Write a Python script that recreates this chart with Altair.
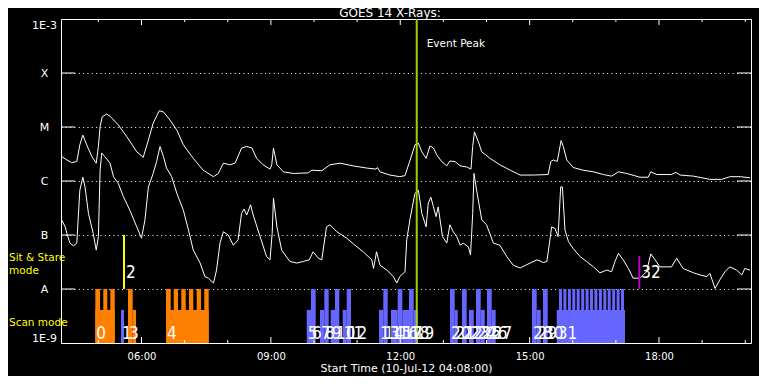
import altair as alt
import pandas as pd

# ---------------- data ----------------
T_START = 4 + 8 / 60.0          # 04:08
T_END = T_START + 16.0

# GOES long channel (1-8 A): time in decimal hours, log10 flux
long_h = [4.15,4.27,4.38,4.50,4.57,4.64,4.73,4.85,4.95,5.00,
          5.04,5.09,5.19,5.27,5.46,5.66,5.89,6.04,6.16,6.27,
          6.41,6.51,6.66,6.82,6.97,7.20,7.43,7.67,7.78,7.90,
          8.05,8.17,8.32,8.44,8.56,8.67,8.82,8.98,9.02,9.06,
          9.14,9.29,9.52,9.87,9.95,10.18,10.37,10.60,10.91,11.22,
          11.44,11.47,11.53,11.76,11.99,12.11,12.23,12.34,12.42,12.50,
          12.60,12.69,12.77,12.85,12.96,13.08,13.15,13.27,13.39,13.54,
          13.64,13.68,13.72,13.81,13.89,14.08,14.31,14.55,14.78,15.09,
          15.43,15.49,15.55,15.64,15.69,15.73,15.78,15.86,16.01,16.24,
          16.48,16.71,16.90,17.06,17.25,17.56,17.75,17.81,17.95,18.29,
          18.39,18.49,18.80,19.18,19.45,19.65,19.88,20.11]
long_lg = [-5.55,-5.61,-5.66,-5.64,-5.33,-5.15,-5.33,-5.55,-5.67,-5.36,
           -4.99,-4.81,-4.76,-4.80,-4.96,-5.18,-5.46,-5.56,-5.24,-4.93,
           -4.70,-4.72,-4.87,-5.06,-5.33,-5.58,-5.80,-5.92,-5.86,-5.67,
           -5.70,-5.67,-5.39,-5.36,-5.39,-5.58,-5.70,-5.78,-5.70,-5.39,
           -5.70,-5.83,-5.86,-5.85,-5.80,-5.81,-5.70,-5.67,-5.72,-5.76,
           -5.78,-5.75,-5.83,-5.89,-5.92,-5.90,-5.61,-5.33,-5.30,-5.46,
           -5.58,-5.35,-5.39,-5.52,-5.64,-5.72,-5.63,-5.64,-5.72,-5.74,
           -5.78,-5.36,-5.09,-5.27,-5.46,-5.58,-5.70,-5.80,-5.89,-5.89,
           -5.88,-5.64,-5.61,-5.64,-5.43,-5.25,-5.36,-5.61,-5.75,-5.80,
           -5.83,-5.88,-5.91,-5.83,-5.86,-5.93,-5.93,-5.83,-5.88,-5.88,
           -5.84,-5.89,-5.91,-5.97,-5.97,-5.92,-5.92,-5.94]

# GOES short channel (0.5-4 A)
short_h = [4.15,4.23,4.27,4.34,4.42,4.50,4.53,4.57,4.64,4.69,
           4.77,4.88,4.95,5.00,5.04,5.08,5.15,5.27,5.35,5.46,
           5.58,5.73,5.89,6.00,6.08,6.16,6.27,6.35,6.43,6.51,
           6.58,6.70,6.82,6.97,7.09,7.20,7.36,7.47,7.55,7.67,
           7.74,7.82,7.90,8.01,8.13,8.24,8.32,8.38,8.44,8.53,
           8.59,8.75,8.90,8.98,9.03,9.06,9.14,9.25,9.44,9.60,
           9.75,9.89,9.98,10.10,10.18,10.29,10.37,10.53,10.76,10.95,
           11.14,11.34,11.38,11.45,11.53,11.69,11.84,11.92,11.99,12.11,
           12.15,12.23,12.34,12.42,12.50,12.60,12.65,12.71,12.77,12.83,
           12.88,12.98,13.08,13.15,13.23,13.31,13.39,13.46,13.58,13.63,
           13.68,13.71,13.77,13.89,14.00,14.16,14.31,14.47,14.62,14.78,
           15.01,15.17,15.32,15.40,15.47,15.51,15.59,15.66,15.72,15.76,
           15.82,15.90,16.01,16.17,16.32,16.48,16.63,16.79,16.90,16.98,
           17.06,17.17,17.29,17.40,17.56,17.71,17.81,17.91,18.02,18.18,
           18.29,18.41,18.56,18.80,18.95,19.11,19.18,19.30,19.41,19.53,
           19.64,19.80,19.92,19.99,20.11]
short_lg = [-6.72,-6.85,-6.97,-7.15,-7.20,-7.15,-6.72,-6.17,-5.93,-6.11,
            -6.60,-6.97,-7.28,-7.03,-5.80,-5.48,-5.55,-5.67,-5.92,-6.04,
            -6.29,-6.54,-6.85,-7.06,-6.72,-6.11,-5.86,-5.64,-5.36,-5.55,
            -5.76,-5.92,-6.23,-6.54,-6.91,-7.28,-7.52,-7.77,-7.80,-7.89,
            -7.65,-7.15,-6.94,-7.00,-7.19,-7.09,-6.60,-6.52,-6.63,-6.44,
            -6.63,-7.03,-7.40,-7.46,-6.97,-6.32,-6.85,-7.28,-7.49,-7.52,
            -7.49,-7.46,-7.31,-7.43,-7.46,-6.85,-6.81,-6.94,-7.06,-7.19,
            -7.31,-7.46,-7.62,-7.31,-7.56,-7.65,-7.77,-7.89,-7.77,-7.68,
            -7.09,-6.69,-6.23,-6.17,-6.60,-6.85,-6.41,-6.30,-6.48,-6.66,
            -6.48,-7.03,-7.15,-6.81,-6.94,-7.03,-7.19,-7.15,-7.22,-7.37,
            -6.60,-5.86,-6.17,-6.72,-6.81,-7.15,-7.19,-7.40,-7.56,-7.61,
            -7.52,-7.46,-7.51,-7.49,-7.09,-6.85,-6.88,-7.03,-6.11,-6.11,
            -6.91,-7.12,-7.25,-7.40,-7.49,-7.59,-7.70,-7.65,-7.68,-7.49,
            -7.34,-7.46,-7.62,-7.80,-7.80,-7.68,-7.35,-7.46,-7.59,-7.59,
            -7.59,-7.43,-7.62,-7.70,-7.74,-7.77,-7.71,-7.99,-7.83,-7.68,
            -7.59,-7.65,-7.74,-7.62,-7.65]

# Scan-mode rasters: start/end (h), level ('full' reaches A, 'half' lower), colour group
FULL = 1e-8
HALF = 4.1e-9
BASE = 1e-9
rect_start = [4.929,4.929,5.114,5.277, 5.525, 5.687,5.796,
              6.568,6.568,6.747,6.923,7.101,7.280,7.456,
              9.831,9.930,10.139,10.239,10.387,10.487,10.665,10.758,
              11.507,11.607,11.786,11.941,12.048,12.203,12.312,
              13.154,13.263,13.432,13.594,13.757,13.866,14.012,14.121,
              15.055,15.164,15.310,
              15.628,15.681,15.783,15.888,15.990,16.091,16.196,16.298,16.400,
              16.502,16.607,16.709,16.811,16.915,17.017,17.119]
rect_end = [5.379,5.038,5.207,5.379, 5.594, 5.796,5.873,
            7.558,6.677,6.846,7.025,7.201,7.380,7.558,
            9.930,10.039,10.239,10.341,10.487,10.587,10.758,10.858,
            11.607,11.709,11.941,12.048,12.203,12.312,12.412,
            13.263,13.333,13.541,13.704,13.866,13.959,14.121,14.213,
            15.164,15.257,15.419,
            17.212,15.751,15.853,15.957,16.059,16.161,16.266,16.368,16.470,
            16.572,16.676,16.778,16.880,16.984,17.086,17.188]
rect_level = ["half","full","full","full", "half", "full","half",
              "half","full","full","full","full","full","full",
              "half","full","half","full","half","full","half","full",
              "half","full","half","full","half","full","half",
              "full","half","full","half","full","half","full","half",
              "full","half","full",
              "half"] + ["full"] * 15
rect_group = ["orange"] * 4 + ["blue"] + ["orange"] * 9 + ["blue"] * 42

# scan numbers and their start times
scan_num = [0,1,3,4,5,6,7,8,9,10,11,12,13,14,15,16,17,18,19,
            20,21,22,23,24,25,26,27,28,29,30,31]
scan_h = [4.929,5.525,5.687,6.568,9.831,9.930,10.139,10.239,10.387,10.487,
          10.665,10.758,11.507,11.607,11.786,11.941,12.048,12.203,12.312,
          13.154,13.263,13.432,13.594,13.757,13.866,14.012,14.121,
          15.055,15.164,15.310,15.628]

# Sit & Stare markers
sit_num = [2, 32]
sit_h = [5.594, 17.543]
sit_top = [1e-7, 4.1e-8]

EVENT_PEAK = 12.382

major_hours = [6, 9, 12, 15, 18]
minor_hours = [5, 7, 8, 10, 11, 13, 14, 16, 17, 19, 20]
decades = [1e-9, 1e-8, 1e-7, 1e-6, 1e-5, 1e-4, 1e-3]
class_levels = [1e-8, 1e-7, 1e-6, 1e-5, 1e-4]

# ---------------- frames ----------------
lines_df = pd.concat([
    pd.DataFrame({"h": long_h, "flux": [10 ** v for v in long_lg], "series": "long"}),
    pd.DataFrame({"h": short_h, "flux": [10 ** v for v in short_lg], "series": "short"}),
])
COLORS = {"orange": "#FF8000", "blue": "#6666FF"}
rect_df = pd.DataFrame({
    "h0": rect_start, "h1": rect_end,
    "top": [FULL if l == "full" else HALF for l in rect_level],
    "bottom": BASE,
    "fill": [COLORS[g] for g in rect_group],
})
scan_df = pd.DataFrame({"h": scan_h, "num": [str(n) for n in scan_num]})
sit_df = pd.DataFrame({"h": sit_h, "top": sit_top, "bot": FULL,
                       "num": [str(n) for n in sit_num]})

W, H = 690, 324
FONT = "DejaVu Sans"
NUMFONT = "'Liberation Sans Narrow', 'DejaVu Sans Condensed', sans-serif"

XS = alt.Scale(domain=[T_START, T_END], nice=False, zero=False)
YS = alt.Scale(type="log", domain=[1e-9, 1e-3], nice=False)

X_AX = alt.Axis(values=major_hours,
                labelExpr="(datum.value < 10 ? '0' : '') + datum.value + ':00'",
                title="Start Time (10-Jul-12 04:08:00)", grid=False, ticks=False,
                tickSize=0, domain=False, labelColor="white", titleColor="white",
                labelFont=FONT, titleFont=FONT, labelFontSize=10, titleFontSize=11,
                titleFontWeight="normal", labelPadding=8, titlePadding=1,
                labelOverlap=False)
Y_AX = alt.Axis(values=decades,
                labelExpr="['1E-9','A','B','C','M','X','1E-3'][round(log(datum.value)/LN10)+9]",
                title=None, grid=True, gridColor="white", gridDash=[1, 3.33],
                gridWidth=1, ticks=False, tickSize=0, domain=False,
                labelColor="white", labelFont=FONT, labelFontSize=11,
                labelAlign="center", labelPadding=17, labelFlush=True,
                labelOverlap=False)


def X(f):
    return alt.X(f, type="quantitative", scale=XS, axis=X_AX)


def Y(f):
    return alt.Y(f, type="quantitative", scale=YS, axis=Y_AX)


lines = alt.Chart(lines_df).mark_line(color="white", strokeWidth=1).encode(
    x=X("h"), y=Y("flux"), detail="series:N")

rects = alt.Chart(rect_df).mark_rect().encode(
    x=X("h0"), x2="h1", y=Y("top"), y2="bottom",
    color=alt.Color("fill:N", scale=None))

lvl_df = pd.DataFrame({"lvl": class_levels})
ytick_l = alt.Chart(lvl_df).mark_rule(color="white").encode(
    y=Y("lvl"), x=alt.value(0), x2=alt.value(14))
ytick_r = alt.Chart(lvl_df).mark_rule(color="white").encode(
    y=Y("lvl"), x=alt.value(W - 14), x2=alt.value(W))

maj_df = pd.DataFrame({"h": major_hours})
min_df = pd.DataFrame({"h": minor_hours})
xt = []
for d, ln in ((maj_df, 6), (min_df, 3)):
    xt.append(alt.Chart(d).mark_rule(color="white").encode(
        x=X("h"), y=alt.value(H), y2=alt.value(H - ln)))
    xt.append(alt.Chart(d).mark_rule(color="white").encode(
        x=X("h"), y=alt.value(0), y2=alt.value(ln)))

ev_df = pd.DataFrame({"h": [EVENT_PEAK]})
event = alt.Chart(ev_df).mark_rule(color="#A0D000", strokeWidth=2).encode(
    x=X("h"), y=alt.value(0), y2=alt.value(H))
event_txt = alt.Chart(ev_df).mark_text(
    text="Event Peak", align="left", baseline="alphabetic", dx=10,
    font=FONT, fontSize=10.5, color="white").encode(x=X("h"), y=alt.value(28))

sit_rules = alt.Chart(sit_df).mark_rule(strokeWidth=2).encode(
    x=X("h"), y=Y("top"), y2="bot",
    color=alt.Color("num:N", scale=alt.Scale(domain=["2", "32"],
                                             range=["#FFFF00", "#C000C0"]),
                    legend=None),
    strokeWidth=alt.StrokeWidth("num:N", scale=alt.Scale(domain=["2", "32"], range=[2, 1]),
                                legend=None))
sit_txt = alt.Chart(sit_df).mark_text(
    align="left", baseline="alphabetic", dx=2, font=NUMFONT, fontSize=17,
    color="white").encode(x=X("h"), y=alt.value(259), text="num:N")

scan_txt = alt.Chart(scan_df).mark_text(
    align="left", baseline="alphabetic", dx=1, font=NUMFONT, fontSize=17,
    color="white").encode(x=X("h"), y=alt.value(320), text="num:N")

one = alt.Data(values=[{}])
side = [
    alt.Chart(one).mark_text(text="GOES 14 X-Rays:", align="center",
                             baseline="alphabetic", font=FONT, fontSize=12,
                             color="white").encode(
        x=alt.value(W / 2 - 16), y=alt.value(-2.5)),
    alt.Chart(one).mark_text(text="Sit & Stare", align="left", baseline="middle",
                             font=FONT, fontSize=10.5, color="#FFFF00").encode(
        x=alt.value(-52), y=alt.value(239)),
    alt.Chart(one).mark_text(text="mode", align="center", baseline="middle",
                             font=FONT, fontSize=10.5, color="#FFFF00").encode(
        x=alt.value(-37), y=alt.value(252)),
    alt.Chart(one).mark_text(text="Scan mode", align="left", baseline="middle",
                             font=FONT, fontSize=10.5, color="#FFFF00").encode(
        x=alt.value(-52), y=alt.value(304)),
]

chart = alt.layer(
    lines, rects, ytick_l, ytick_r, *xt, event, event_txt, sit_rules, sit_txt,
    scan_txt, *side
).properties(
    width=W, height=H,
    autosize=alt.AutoSizeParams(type="none"),
    padding={"left": 53, "top": 11, "right": 8, "bottom": 33},
).configure(background="black").configure_view(stroke="white", strokeWidth=1)

chart.save("out.html", embed_options={"renderer": "svg", "actions": False})
